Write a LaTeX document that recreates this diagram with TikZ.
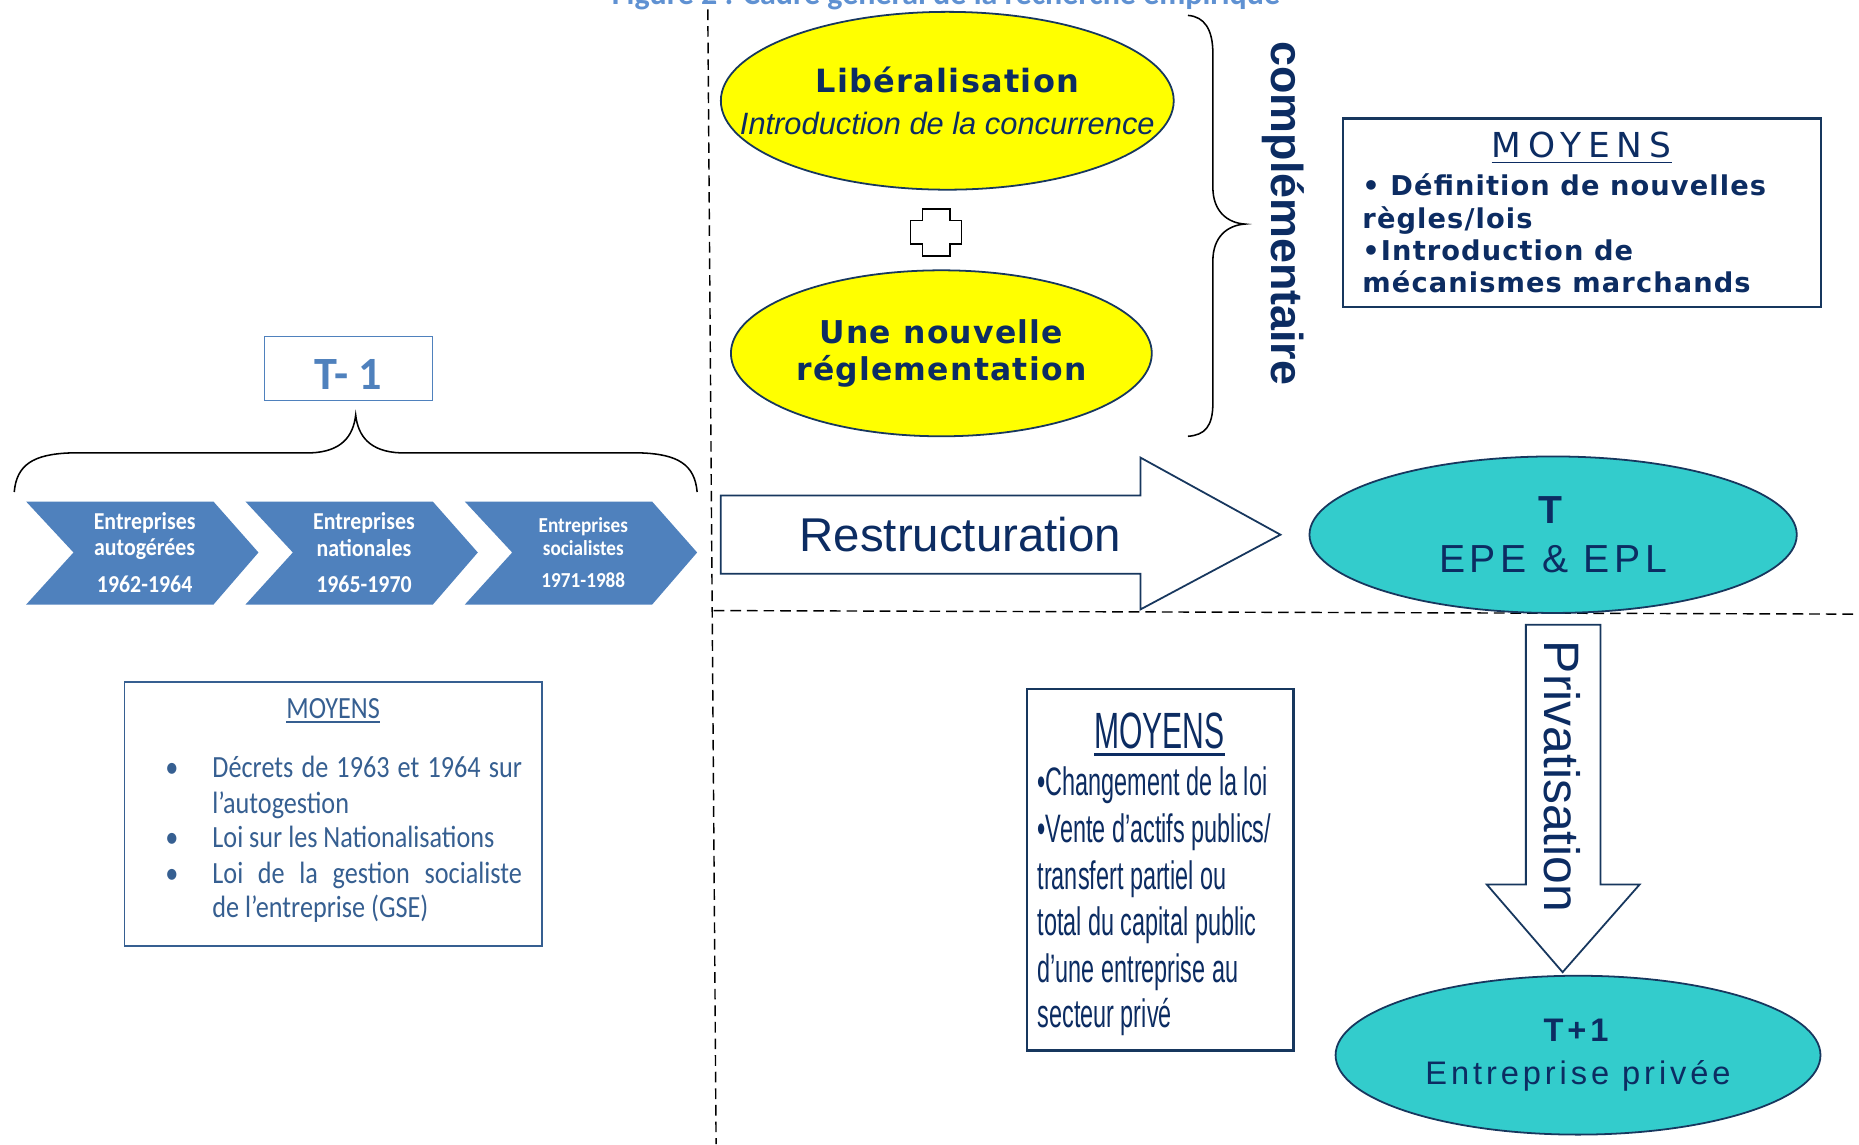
\documentclass[tikz,border=0pt]{standalone}
\usepackage{fontspec}
\setmainfont{Liberation Sans}
\newfontfamily\calibri{Carlito}
\newfontfamily\chevfont[FakeStretch=0.9]{Carlito}
\newfontfamily\listfont[FakeStretch=0.85]{Carlito}
\newfontfamily\narrowfont[FakeStretch=0.59]{Liberation Sans}
\newfontfamily\verdana[LetterSpace=4]{DejaVu Sans}
\newfontfamily\verdanawide[LetterSpace=20]{DejaVu Sans}
\newfontfamily\arialwide[LetterSpace=12]{Liberation Sans}
\newcommand{\fsz}[2]{\fontsize{#1}{#2}\selectfont}
\definecolor{accentblue}{RGB}{79,129,189}
\definecolor{titleblue}{RGB}{95,145,210}
\definecolor{listblue}{RGB}{54,95,145}
\definecolor{navy}{RGB}{12,44,98}
\definecolor{navyline}{RGB}{23,55,94}
\definecolor{turquoise}{RGB}{51,204,204}
\definecolor{lemon}{RGB}{255,255,0}
\usetikzlibrary{shapes.geometric}
\tikzset{
  phase/.style={ellipse, draw=navyline, line width=1.5pt, inner sep=0pt, align=center, text=navy},
  moyens/.style={draw=navyline, line width=2pt},
  blockarrow/.style={draw=navyline, line width=1.5pt, fill=white, line join=miter},
  divider/.style={dash pattern=on 9pt off 5pt, line width=1.2pt},
  bracestroke/.style={line width=1.3pt},
  period/.style={text=white, align=center, inner sep=0pt},
  listline/.style={anchor=base west, inner sep=0pt},
}

\begin{document}
\begin{tikzpicture}[x=1pt,y=-1pt]
\useasboundingbox (0,0) rectangle (1568,965);
\clip (0,0) rectangle (1568,965);
\fill[white] (0,0) rectangle (1568,965);

% titre, coupe en haut
\node[anchor=base, inner sep=0pt, font=\calibri\bfseries\fsz{27}{30}, text=titleblue] (titre) at (798,4) {Figure 2 : Cadre général de la recherche empirique};

% lignes de separation
\coordinate (vtop) at (597,8);
\coordinate (vbot) at (604,965);
\coordinate (hleft) at (602,515);
\coordinate (hright) at (1568,518);
\draw[divider] (vtop) -- (vbot);
\draw[divider] (hleft) -- (hright);

% ---- periode T-1
\node[draw=accentblue, line width=1.2pt, minimum width=142, minimum height=54, inner sep=0pt,
      text=accentblue, font=\calibri\bfseries\fsz{39}{40}, text height=35pt, text depth=0pt] (tmoins) at (294,311) {T- 1};
\draw[bracestroke] (12,415) .. controls (14,392) and (28,383) .. (60,382) -- (262,382)
  .. controls (288,381) and (298,368) .. (300,350) .. controls (302,368) and (312,381) .. (338,382)
  -- (540,382) .. controls (572,383) and (586,392) .. (588,415);

\foreach \x/\nom/\ans/\sz/\ld/\gap [count=\k] in {22/autogérées/1962-1964/20.5/22/9, 207/nationales/1965-1970/20.5/23/7, 392/socialistes/1971-1988/18/20/7}{
  \fill[accentblue] (\x,423) -- ++(158,0) -- ++(38,43) -- ++(-38,44) -- ++(-158,0) -- ++(40,-44) -- cycle;
  \node[period, font=\chevfont\bfseries\fsz{\sz}{\ld}] (ent\k) at (\x+100,466) {Entreprises\\\nom\\[\gap pt]\ans};
}

% moyens T-1
\draw[listblue, line width=1.5pt] (105,575) rectangle (457,798);
\node[anchor=base, inner sep=0pt, font=\listfont\fsz{26}{30}, text=listblue] (mg) at (281,606) {MOYENS};
\draw[listblue, line width=1.3pt] ([yshift=-3pt]mg.base west) -- ([yshift=-3pt]mg.base east);
\foreach \yy [count=\k] in {656,715,745}
  \node[anchor=base, inner sep=0pt, font=\listfont\fsz{26}{30}, text=listblue] (bg\k) at (145,\yy) {•};
\foreach \yy/\txt [count=\k] in {656/{\makebox[261pt][s]{Décrets de 1963 et 1964 sur}}, 686/{l’autogestion},
    715/{Loi sur les Nationalisations}, 745/{\makebox[261pt][s]{Loi de la gestion socialiste}}, 774/{de l’entreprise (GSE)}}
  \node[listline, font=\listfont\fsz{26}{30}, text=listblue] (lg\k) at (179,\yy) {\txt};

% ---- periode T
\node[phase, fill=lemon, minimum width=382, minimum height=150, font=\verdana\bfseries\fsz{27}{35}] (liberal) at (799,85)
  {Libéralisation\\\makebox[0pt][c]{\rmfamily\mdseries\itshape\fsz{26}{35}Introduction de la concurrence}};
\draw[line width=1.5pt, fill=white] (778,176) -- (801,176) -- (801,186) -- (811,186) -- (811,206) -- (801,206)
  -- (801,216) -- (778,216) -- (778,206) -- (768,206) -- (768,186) -- (778,186) -- cycle;
\node[phase, fill=lemon, minimum width=355, minimum height=140, font=\verdana\bfseries\fsz{26.5}{31}] (regl) at (794,298)
  {Une nouvelle\\réglementation};
\draw[bracestroke] (1002,13) .. controls (1016,14) and (1023,25) .. (1023,45) -- (1023,158)
  .. controls (1023,178) and (1035,188) .. (1050,189) .. controls (1035,190) and (1023,200) .. (1023,220)
  -- (1023,340) .. controls (1023,360) and (1016,367) .. (1002,368);
\node[rotate=-90, font=\bfseries\fsz{37.8}{40}, text=navy] (compl) at (1082,180) {complémentaire};

\draw[moyens] (1133,100) rectangle (1536,259);
\node[anchor=base, inner sep=0pt, font=\verdanawide\fsz{29}{32}, text=navy] (md) at (1334,133) {MOYENS};
\draw[navy, line width=1.5pt] ([yshift=-4pt]md.base west) -- ([yshift=-4pt]md.base east);
\foreach \yy/\txt [count=\k] in {165/{• Définition de nouvelles}, 193/{règles/lois}, 220/{•Introduction de}, 247/{mécanismes marchands}}
  \node[listline, font=\verdana\bfseries\fsz{23}{27}, text=navy] (ld\k) at (1149,\yy) {\txt};

\draw[blockarrow] (608,418) -- (962,418) -- (962,386) -- (1080,451) -- (962,514) -- (962,484) -- (608,484) -- cycle;
\node[font=\fsz{40}{44}, text=navy] (restr) at (810,451) {Restructuration};

\node[phase, fill=turquoise, minimum width=411, minimum height=132, font=\arialwide\fsz{33}{41}] (tcur) at (1310,451)
  {\textbf{T}\\EPE \& EPL};

% ---- periode T+1
\draw[blockarrow] (1287,527) -- (1350,527) -- (1350,746) -- (1383,746) -- (1318,820) -- (1254,746) -- (1287,746) -- cycle;
\node[rotate=-90, font=\fsz{42}{44}, text=navy] (priv) at (1318,655) {Privatisation};

\node[phase, fill=turquoise, minimum width=409, minimum height=134, font=\arialwide\fsz{27.5}{37}] (tplus) at (1331,890)
  {\textbf{T+1}\\Entreprise privée};

\draw[moyens] (866,581) rectangle (1091,886);
\node[anchor=base, inner sep=0pt, font=\narrowfont\fsz{43}{48}, text=navy] (mm) at (978,631) {MOYENS};
\draw[navy, line width=2.5pt] ([yshift=-5pt]mm.base west) -- ([yshift=-5pt]mm.base east);
\foreach \yy/\txt [count=\k] in {671/{•Changement de la loi}, 711/{•Vente d’actifs publics/}, 750/{transfert partiel ou},
    789/{total du capital public}, 829/{d’une entreprise au}, 867/{secteur privé}}
  \node[listline, font=\narrowfont\fsz{33.5}{39}, text=navy] (lm\k) at (875,\yy) {\txt};
\end{tikzpicture}
\end{document}
